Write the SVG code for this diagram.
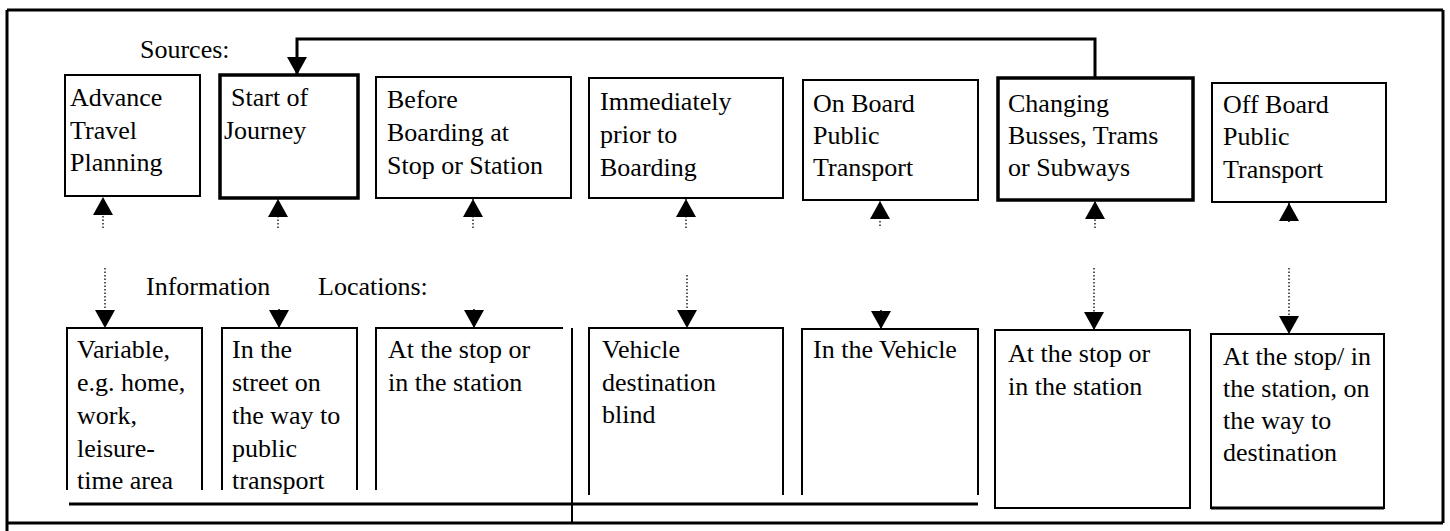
<svg xmlns="http://www.w3.org/2000/svg" width="1450" height="531" viewBox="0 0 1450 531">
<style>
text{font-family:"Liberation Serif","Times New Roman",serif;font-size:26px;fill:#000}
.box{fill:#fff;stroke:#000;stroke-width:2}
.thick{fill:#fff;stroke:#000;stroke-width:3.5}
.open{fill:none;stroke:#000;stroke-width:2}
.frame{fill:none;stroke:#000;stroke-width:3}
.dot{fill:none;stroke:#000;stroke-width:1.3;stroke-dasharray:1.5 2}
.solid{fill:none;stroke:#000;stroke-width:1.5}
.fb{fill:none;stroke:#000;stroke-width:3}
</style>
<defs>
<marker id="ah" viewBox="0 0 18 20" refX="18" refY="10" markerWidth="18" markerHeight="20" markerUnits="userSpaceOnUse" orient="auto">
<path d="M0,0 L18,10 L0,20 z" fill="#000"/>
</marker>
</defs>
<rect width="1450" height="531" fill="#fff"/>
<g id="frame">
<line class="frame" x1="7" y1="10" x2="1443" y2="10"/>
<line class="frame" x1="7" y1="10" x2="7" y2="531"/>
<line class="frame" x1="1443" y1="10" x2="1443" y2="523"/>
<line class="frame" x1="7" y1="523" x2="1443" y2="523"/>
<line class="frame" x1="69" y1="504" x2="978" y2="504"/>
<line class="open" x1="572" y1="328" x2="572" y2="523"/>
</g>
<g id="labels">
<text x="140" y="58">Sources:</text>
<text x="146" y="295">Information</text>
<text x="318" y="295">Locations:</text>
</g>
<g id="src-advance">
<rect class="box" x="65" y="75" width="135" height="121"/>
<text x="70" y="106">Advance<tspan x="70" y="139">Travel</tspan><tspan x="70" y="171">Planning</tspan></text>
</g>
<g id="src-start">
<rect class="thick" x="220" y="75" width="138" height="123"/>
<text x="231" y="106">Start of<tspan x="224" y="139">Journey</tspan></text>
</g>
<g id="src-before">
<rect class="box" x="376" y="77" width="195" height="121"/>
<text x="387" y="108">Before<tspan x="387" y="141">Boarding at</tspan><tspan x="387" y="174">Stop or Station</tspan></text>
</g>
<g id="src-immediately">
<rect class="box" x="589" y="78" width="194" height="120"/>
<text x="600" y="110">Immediately<tspan x="600" y="143">prior to</tspan><tspan x="600" y="176">Boarding</tspan></text>
</g>
<g id="src-onboard">
<rect class="box" x="803" y="80" width="175" height="120"/>
<text x="813" y="112">On Board<tspan x="813" y="144">Public</tspan><tspan x="813" y="176">Transport</tspan></text>
</g>
<g id="src-changing">
<rect class="thick" x="998" y="78" width="195" height="122"/>
<text x="1008" y="112">Changing<tspan x="1008" y="144">Busses, Trams</tspan><tspan x="1008" y="176">or Subways</tspan></text>
</g>
<g id="src-offboard">
<rect class="box" x="1212" y="83" width="174" height="119"/>
<text x="1223" y="113">Off Board<tspan x="1223" y="145">Public</tspan><tspan x="1223" y="178">Transport</tspan></text>
</g>
<g id="loc-variable">
<path class="open" d="M67,490 V328 H202 V490"/>
<text x="77" y="358">Variable,<tspan x="77" y="391">e.g. home,</tspan><tspan x="77" y="424">work,</tspan><tspan x="77" y="457">leisure-</tspan><tspan x="77" y="489">time area</tspan></text>
</g>
<g id="loc-street">
<path class="open" d="M222,490 V328 H357 V490"/>
<text x="232" y="358">In the<tspan x="232" y="391">street on</tspan><tspan x="232" y="424">the way to</tspan><tspan x="232" y="457">public</tspan><tspan x="232" y="489">transport</tspan></text>
</g>
<g id="loc-stop1">
<path class="open" d="M376,490 V328 H563"/>
<text x="388" y="358">At the stop or<tspan x="388" y="391">in the station</tspan></text>
</g>
<g id="loc-blind">
<path class="open" d="M589,495 V328 H783 V495"/>
<text x="602" y="358">Vehicle<tspan x="602" y="391">destination</tspan><tspan x="602" y="423">blind</tspan></text>
</g>
<g id="loc-vehicle">
<path class="open" d="M802,495 V329 H978 V495"/>
<text x="813" y="358">In the Vehicle</text>
</g>
<g id="loc-stop2">
<rect class="box" x="995" y="330" width="195" height="178"/>
<text x="1008" y="362">At the stop or<tspan x="1008" y="395">in the station</tspan></text>
</g>
<g id="loc-dest">
<rect class="box" x="1211" y="334" width="173" height="174"/>
<line x1="1211" y1="508" x2="1384" y2="508" stroke="#000" stroke-width="3"/>
<text x="1223" y="365">At the stop/ in<tspan x="1223" y="397">the station, on</tspan><tspan x="1223" y="429">the way to</tspan><tspan x="1223" y="461">destination</tspan></text>
</g>
<g id="connectors">
<path class="fb" d="M1095,78 V39 H297 V75" marker-end="url(#ah)"/>
<line class="dot" x1="103" y1="228" x2="103" y2="197" marker-end="url(#ah)"/>
<line class="dot" x1="278" y1="228" x2="278" y2="199" marker-end="url(#ah)"/>
<line class="dot" x1="473" y1="228" x2="473" y2="199" marker-end="url(#ah)"/>
<line class="dot" x1="686" y1="228" x2="686" y2="199" marker-end="url(#ah)"/>
<line class="dot" x1="880" y1="226" x2="880" y2="201" marker-end="url(#ah)"/>
<line class="dot" x1="1095" y1="228" x2="1095" y2="201" marker-end="url(#ah)"/>
<line class="solid" x1="1289" y1="222" x2="1289" y2="203" marker-end="url(#ah)"/>
<line class="dot" x1="105" y1="268" x2="105" y2="328" marker-end="url(#ah)"/>
<line class="solid" x1="279" y1="309" x2="279" y2="328" marker-end="url(#ah)"/>
<line class="solid" x1="474" y1="309" x2="474" y2="328" marker-end="url(#ah)"/>
<line class="dot" x1="687" y1="275" x2="687" y2="328" marker-end="url(#ah)"/>
<line class="solid" x1="881" y1="310" x2="881" y2="329" marker-end="url(#ah)"/>
<line class="dot" x1="1094" y1="268" x2="1094" y2="330" marker-end="url(#ah)"/>
<line class="dot" x1="1289" y1="268" x2="1289" y2="334" marker-end="url(#ah)"/>
</g>
</svg>
